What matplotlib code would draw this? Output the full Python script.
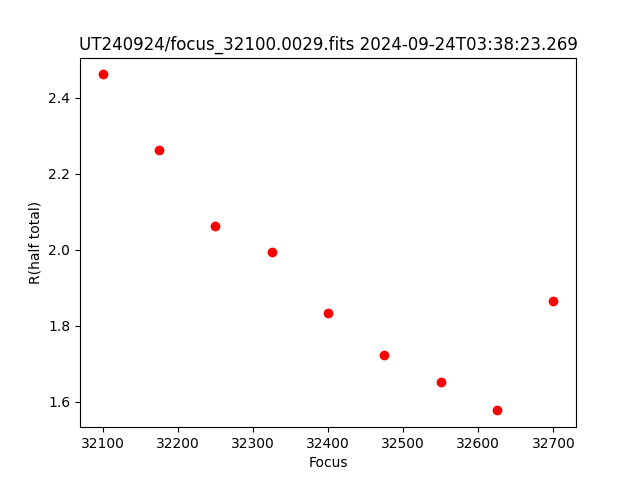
import matplotlib
matplotlib.use("Agg")
import matplotlib.pyplot as plt

focus = [32100, 32175, 32250, 32325, 32400, 32475, 32550, 32625, 32700]
r_half = [2.461, 2.263, 2.063, 1.995, 1.834, 1.724, 1.653, 1.577, 1.866]

title = "UT240924/focus_32100.0029.fits 2024-09-24T03:38:23.269"


def main():
    fig = plt.figure(figsize=(6.4, 4.8), dpi=100)
    plt.plot(focus, r_half, "ro")
    plt.title(title)
    plt.xlabel("Focus")
    plt.ylabel("R(half total)")
    fig.savefig("out.png")


if __name__ == "__main__":
    main()
